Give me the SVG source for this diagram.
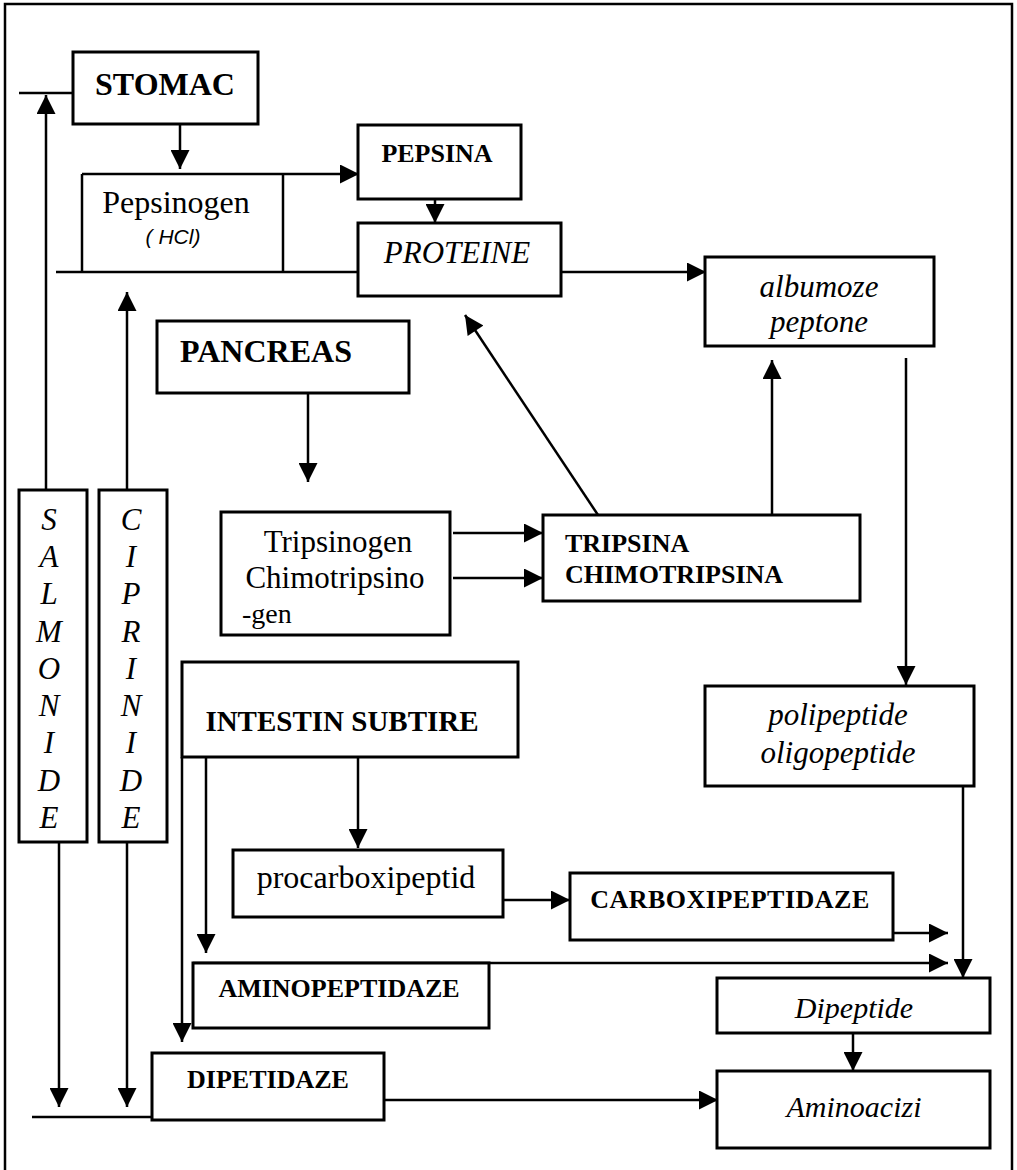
<svg xmlns="http://www.w3.org/2000/svg" width="1017" height="1170" viewBox="0 0 1017 1170">
<style>
  .box{fill:#fff;stroke:#000;stroke-width:3}
  .ln{fill:none;stroke:#000;stroke-width:2.5}
  .ar{fill:none;stroke:#000;stroke-width:2.5;marker-end:url(#ah)}
  .b{font-family:"Liberation Serif",serif;font-weight:bold;fill:#000}
  .r{font-family:"Liberation Serif",serif;fill:#000}
  .i{font-family:"Liberation Serif",serif;font-style:italic;fill:#000}
  .mid{text-anchor:middle}
</style>
<defs>
  <marker id="ah" viewBox="0 0 10 10" refX="10" refY="5" markerUnits="userSpaceOnUse" markerWidth="21" markerHeight="19" orient="auto">
    <path d="M0,0 L10,5 L0,10 z" fill="#000"/>
  </marker>
</defs>
<rect width="1017" height="1170" fill="#fff"/>
<g id="frame">
  <path class="ln" d="M5,1170 V4 H1012 V1170" stroke-width="3"/>
</g>
<g id="connectors">
  <path class="ln" d="M19,93 H73"/>
  <path class="ar" d="M46,490 V95"/>
  <path class="ar" d="M127,490 V292"/>
  <path class="ar" d="M180,124 V169"/>
  <path class="ar" d="M82,174 H359"/>
  <path class="ln" d="M82,174 V272"/>
  <path class="ln" d="M283,174 V272"/>
  <path class="ln" d="M56,272 H358"/>
  <path class="ar" d="M435,199 V223"/>
  <path class="ar" d="M561,272 H706"/>
  <path class="ar" d="M598,515 L465,315"/>
  <path class="ar" d="M772,515 V360"/>
  <path class="ar" d="M906,358 V685"/>
  <path class="ar" d="M308,393 V482"/>
  <path class="ar" d="M453,533 H543"/>
  <path class="ar" d="M453,578 H543"/>
  <path class="ar" d="M358,757 V848"/>
  <path class="ar" d="M182,757 V1042"/>
  <path class="ar" d="M206,757 V953"/>
  <path class="ar" d="M503,900 H570"/>
  <path class="ar" d="M893,933 H948"/>
  <path class="ar" d="M193,963 H948"/>
  <path class="ar" d="M963,783 V978"/>
  <path class="ar" d="M853,1033 V1071"/>
  <path class="ar" d="M384,1100 H718"/>
  <path class="ar" d="M59,842 V1107"/>
  <path class="ar" d="M127,842 V1107"/>
  <path class="ln" d="M32,1117 H152"/>
</g>
<g id="stomac">
  <rect class="box" x="73" y="52" width="185" height="72"/>
  <text class="b mid" x="165" y="95" font-size="32">STOMAC</text>
</g>
<g id="pepsinogen">
  <text class="r mid" x="176" y="213" font-size="32">Pepsinogen</text>
  <text class="mid" x="173" y="244" font-size="21" font-family="Liberation Sans, sans-serif" font-style="italic">( HCl)</text>
</g>
<g id="pepsina">
  <rect class="box" x="358" y="125" width="163" height="74"/>
  <text class="b mid" x="437" y="162" font-size="26">PEPSINA</text>
</g>
<g id="proteine">
  <rect class="box" x="358" y="223" width="203" height="73"/>
  <text class="i mid" x="457" y="263" font-size="31">PROTEINE</text>
</g>
<g id="albumoze">
  <rect class="box" x="705" y="257" width="229" height="89"/>
  <text class="i mid" x="819" y="297" font-size="31">albumoze</text>
  <text class="i mid" x="819" y="332" font-size="31">peptone</text>
</g>
<g id="pancreas">
  <rect class="box" x="157" y="321" width="252" height="72"/>
  <text class="b mid" x="266" y="362" font-size="32">PANCREAS</text>
</g>
<g id="tripsinogen">
  <rect class="box" x="221" y="512" width="229" height="123"/>
  <text class="r mid" x="338" y="552" font-size="31">Tripsinogen</text>
  <text class="r mid" x="335" y="588" font-size="31">Chimotripsino</text>
  <text class="r" x="242" y="623" font-size="28">-gen</text>
</g>
<g id="tripsina">
  <rect class="box" x="543" y="515" width="317" height="86"/>
  <text class="b" x="565" y="552" font-size="26">TRIPSINA</text>
  <text class="b" x="565" y="583" font-size="26">CHIMOTRIPSINA</text>
</g>
<g id="salmonide">
  <rect class="box" x="19" y="490" width="68" height="352"/>
  <text class="i mid" font-size="31">
    <tspan x="49" y="530">S</tspan><tspan x="49" y="567">A</tspan><tspan x="49" y="604">L</tspan><tspan x="49" y="642">M</tspan><tspan x="49" y="679">O</tspan><tspan x="49" y="716">N</tspan><tspan x="49" y="753">I</tspan><tspan x="49" y="791">D</tspan><tspan x="49" y="828">E</tspan>
  </text>
</g>
<g id="ciprinide">
  <rect class="box" x="99" y="490" width="68" height="352"/>
  <text class="i mid" font-size="31">
    <tspan x="131" y="530">C</tspan><tspan x="131" y="567">I</tspan><tspan x="131" y="604">P</tspan><tspan x="131" y="642">R</tspan><tspan x="131" y="679">I</tspan><tspan x="131" y="716">N</tspan><tspan x="131" y="753">I</tspan><tspan x="131" y="791">D</tspan><tspan x="131" y="828">E</tspan>
  </text>
</g>
<g id="intestin">
  <rect class="box" x="182" y="662" width="336" height="95"/>
  <text class="b mid" x="342" y="731" font-size="29">INTESTIN SUBTIRE</text>
</g>
<g id="polipeptide">
  <rect class="box" x="705" y="686" width="269" height="100"/>
  <text class="i mid" x="838" y="725" font-size="31">polipeptide</text>
  <text class="i mid" x="838" y="763" font-size="31">oligopeptide</text>
</g>
<g id="procarboxipeptid">
  <rect class="box" x="233" y="850" width="270" height="67"/>
  <text class="r mid" x="366" y="888" font-size="32">procarboxipeptid</text>
</g>
<g id="carboxipeptidaze">
  <rect class="box" x="570" y="873" width="323" height="67"/>
  <text class="b mid" x="730" y="908" font-size="26" letter-spacing="0.5">CARBOXIPEPTIDAZE</text>
</g>
<g id="aminopeptidaze">
  <rect class="box" x="193" y="963" width="296" height="65"/>
  <text class="b mid" x="339" y="997" font-size="26">AMINOPEPTIDAZE</text>
</g>
<g id="dipeptide">
  <rect class="box" x="717" y="978" width="273" height="55"/>
  <text class="i mid" x="854" y="1018" font-size="30">Dipeptide</text>
</g>
<g id="dipetidaze">
  <rect class="box" x="152" y="1053" width="232" height="67"/>
  <text class="b mid" x="268" y="1088" font-size="26">DIPETIDAZE</text>
</g>
<g id="aminoacizi">
  <rect class="box" x="717" y="1071" width="273" height="77"/>
  <text class="i mid" x="854" y="1117" font-size="30">Aminoacizi</text>
</g>
</svg>
